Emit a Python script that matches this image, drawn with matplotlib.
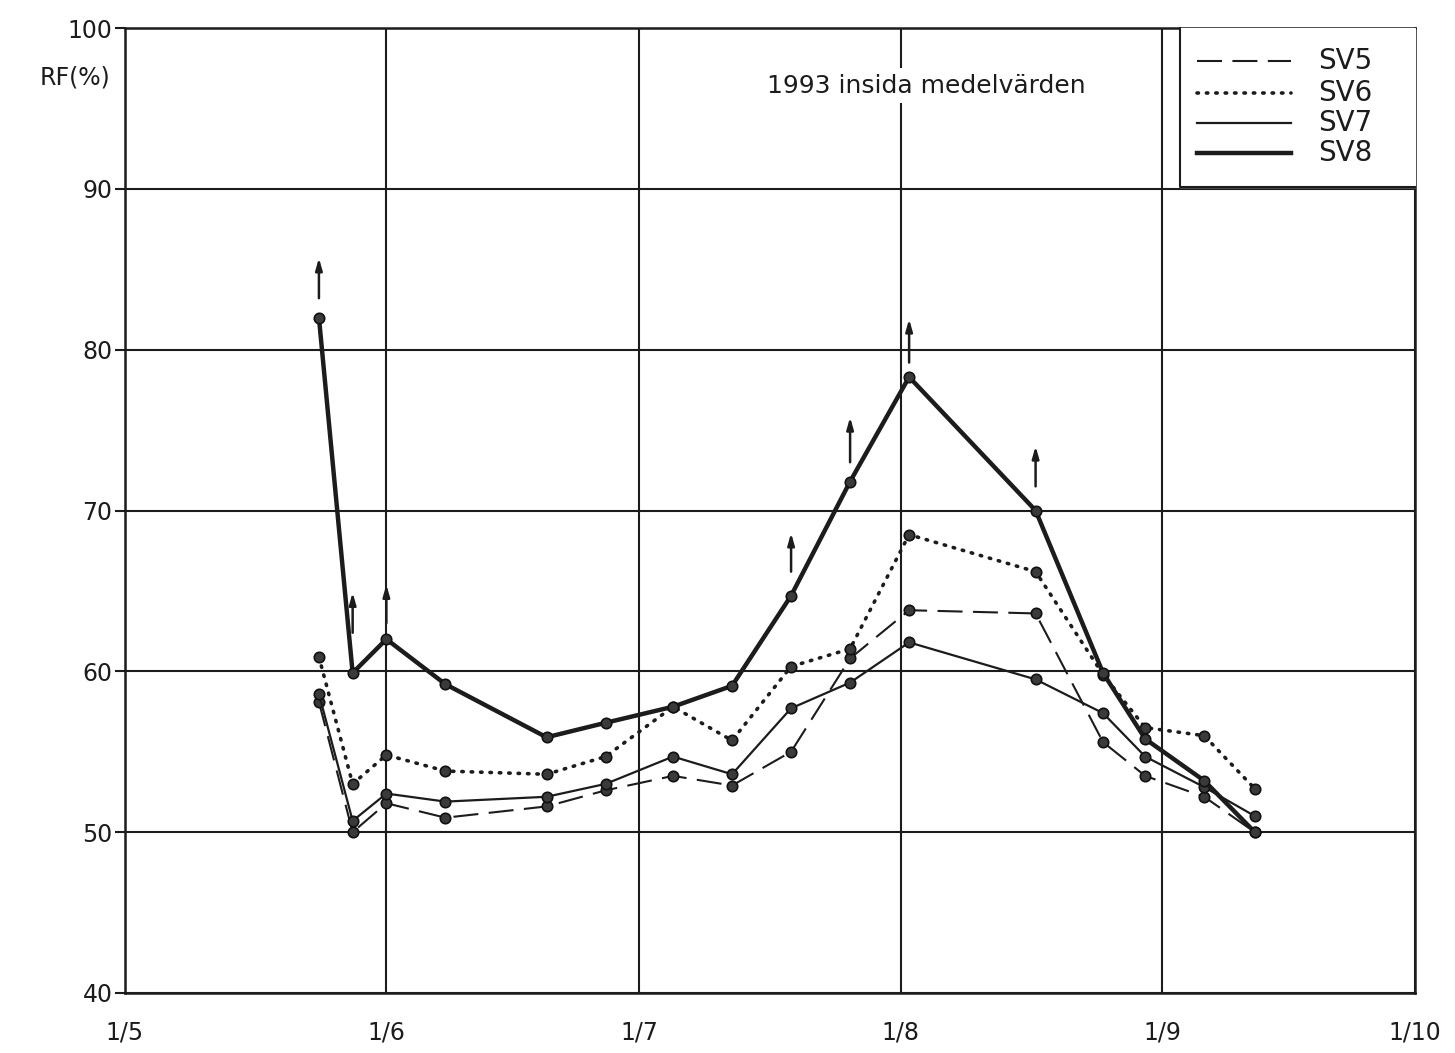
import matplotlib.pyplot as plt

# Measuring days, counted from 1 May 1993
days = [23, 27, 31, 38, 50, 57, 65, 72, 79, 86, 93, 108, 116, 121, 128, 134]

# Mean relative humidity on the inside (%)
sv5 = [58.1, 50.0, 51.8, 50.9, 51.6, 52.6, 53.5, 52.9, 55.0, 60.8, 63.8, 63.6, 55.6, 53.5, 52.2, 50.0]
sv6 = [60.9, 53.0, 54.8, 53.8, 53.6, 54.7, 57.8, 55.7, 60.3, 61.4, 68.5, 66.2, 59.8, 56.5, 56.0, 52.7]
sv7 = [58.6, 50.7, 52.4, 51.9, 52.2, 53.0, 54.7, 53.6, 57.7, 59.3, 61.8, 59.5, 57.4, 54.7, 52.8, 51.0]
sv8 = [82.0, 59.9, 62.0, 59.2, 55.9, 56.8, 57.8, 59.1, 64.7, 71.8, 78.3, 70.0, 59.9, 55.8, 53.2, 50.0]

# Up arrows over SV8 where the readings went higher: day, foot, tip
arrow_days = [23, 27, 31, 79, 86, 93, 108]
arrow_foot = [83.2, 62.4, 63.0, 66.2, 73.0, 79.2, 71.5]
arrow_tip = [85.7, 64.9, 65.4, 68.6, 75.8, 81.9, 74.0]

month_pos = [0, 31, 61, 92, 123, 153]
month_labels = ["1/5", "1/6", "1/7", "1/8", "1/9", "1/10"]
rf_ticks = [40, 50, 60, 70, 80, 90, 100]

series_names = ["SV5", "SV6", "SV7", "SV8"]

INK = "#1c1c1c"

fig = plt.figure(figsize=(14.55, 10.53), dpi=100)
ax = fig.add_axes([125 / 1455, 60 / 1053, 1290 / 1455, 965 / 1053])

ax.set_xlim(month_pos[0], month_pos[-1])
ax.set_ylim(rf_ticks[0], rf_ticks[-1])
ax.set_xticks(month_pos)
ax.set_xticklabels(month_labels)
ax.set_yticks(rf_ticks)
ax.grid(True, color=INK, lw=1.5, zorder=0)
for sp in ax.spines.values():
    sp.set_color(INK)
    sp.set_linewidth(1.8)
ax.tick_params(axis="x", length=0, pad=20, labelsize=17, colors=INK)
ax.tick_params(axis="y", length=7, width=1.5, pad=2, labelsize=17, colors=INK)

marker_kw = dict(marker="o", ms=7.5, mfc="#3a3a3a", mec="#111111", mew=1.2)
styles = [
    dict(ls=(0, (12, 5)), lw=1.5),
    dict(ls=(0, (0.4, 2.2)), lw=2.6, dash_capstyle="round"),
    dict(ls="-", lw=1.6),
    dict(ls="-", lw=3.2),
]
for vals, st in zip([sv5, sv6, sv7, sv8], styles):
    ax.plot(days, vals, color=INK, zorder=3, **st, **marker_kw)

for d, lo, hi in zip(arrow_days, arrow_foot, arrow_tip):
    ax.annotate("", xy=(d, hi), xytext=(d, lo),
                arrowprops=dict(arrowstyle="-|>,head_length=0.7,head_width=0.2",
                                color=INK, lw=1.8, shrinkA=0, shrinkB=0),
                zorder=4)

# heading, with the grid broken behind it
ax.text(95, 96.4, "1993 insida medelvärden", ha="center", va="center",
        fontsize=18, color=INK, zorder=5,
        bbox=dict(facecolor="white", edgecolor="none", pad=4))

fig.text(40 / 1455, 1 - 78 / 1053, "RF(%)", ha="left", va="center",
         fontsize=17, color=INK)

# legend box in the upper right corner
box_x = 0.818
box_y = 0.835
ax.fill_between([box_x, 1], box_y, 1, color="white", transform=ax.transAxes, zorder=5)
ax.plot([box_x, box_x, 1], [1, box_y, box_y], color=INK, lw=1.5,
        transform=ax.transAxes, zorder=6, clip_on=False)
legend_y = [0.966, 0.933, 0.902, 0.870]
for name, st, ly in zip(series_names, styles, legend_y):
    ax.plot([0.831, 0.904], [ly, ly], color=INK, transform=ax.transAxes,
            zorder=6, **st)
    ax.text(0.925, ly, name, transform=ax.transAxes, ha="left", va="center",
            fontsize=20, color=INK, zorder=6)

fig.savefig("out.png", dpi=100, facecolor="white")
